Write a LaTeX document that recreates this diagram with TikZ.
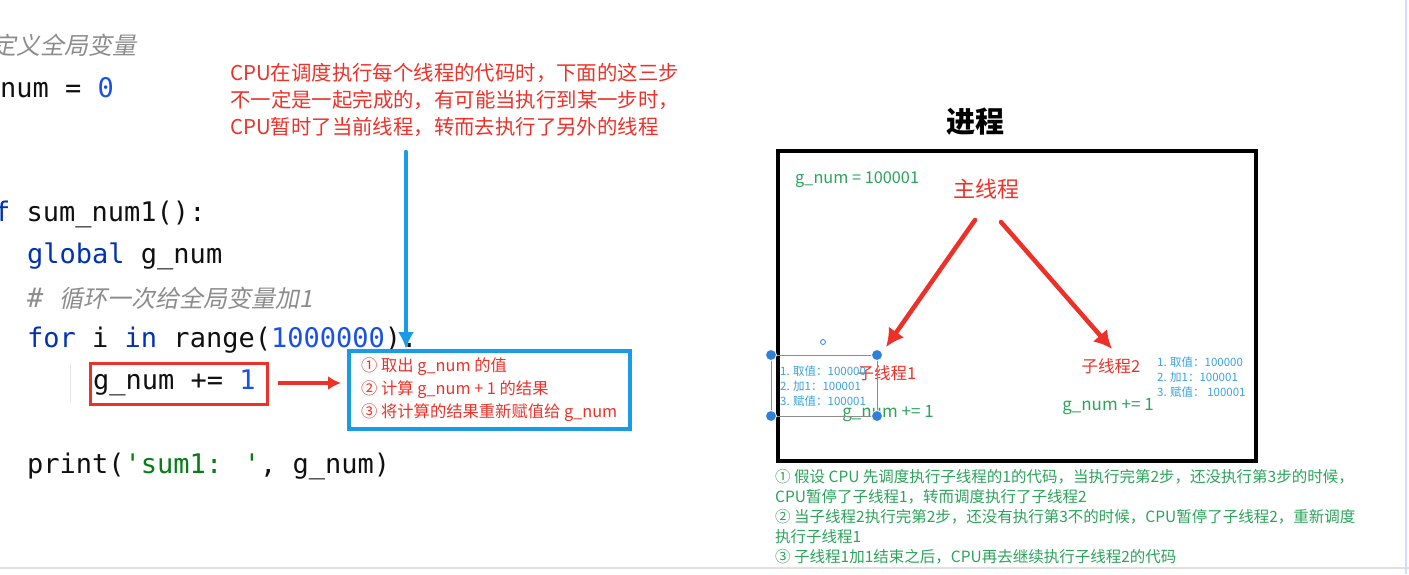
\documentclass[tikz,border=0pt]{standalone}
\usepackage{fontspec}
\setmainfont{Noto Sans CJK SC}
\newfontfamily\codefont{DejaVu Sans Mono}
\newfontfamily\cmtfont[FakeSlant=0.2]{Noto Sans CJK SC}
\usepackage{xcolor}
\usetikzlibrary{arrows.meta,positioning}
\definecolor{noteRed}{HTML}{EE3128}
\definecolor{stepBlue}{HTML}{1A9BE8}
\definecolor{infoBlue}{HTML}{3AA2DE}
\definecolor{okGreen}{HTML}{2BA35A}
\definecolor{codeKw}{HTML}{0033B3}
\definecolor{codeNum}{HTML}{1750EB}
\definecolor{codeStr}{HTML}{067D17}
\definecolor{codeCmt}{HTML}{8C8C8C}
\definecolor{codeTxt}{HTML}{101010}
\definecolor{handleBlue}{HTML}{2F80D8}

\begin{document}
\begin{tikzpicture}[x=1pt, y=-1pt,
    code/.style={anchor=west, inner sep=0pt, text=codeTxt, font=\codefont\fontsize{27}{30}\selectfont},
    cmt/.style={anchor=west, inner sep=0pt, text=codeCmt, font=\cmtfont\fontsize{24}{28}\selectfont},
    stepbox/.style={draw=stepBlue, line width=3.5pt, anchor=north west, minimum width=281pt, minimum height=78pt, inner xsep=8pt, align=left, text=noteRed, font=\fontsize{16.3}{23}\selectfont},
    thread/.style={text=noteRed, inner sep=0pt, font=\fontsize{16.5}{20}\selectfont},
    addone/.style={text=okGreen, inner sep=0pt, font=\fontsize{17}{20}\selectfont},
    info/.style={anchor=west, inner sep=0pt, align=left, text=infoBlue, font=\fontsize{11.5}{15.2}\selectfont},
    handle/.style={fill=handleBlue, draw=white, line width=0.8pt}]
    \useasboundingbox (0,0) rectangle (1409,574);
    \clip (0,0) rectangle (1409,574);

    % code on the left
    \node[cmt] (cmt0) at (-8,45) {定义全局变量};
    \node[code] (init) at (0,88) {num = \textcolor{codeNum}{0}};
    \node[code] (def) at (-6,214) {\textcolor{codeKw}{f} sum\_num1():};
    \node[code] (glob) at (27,256) {\textcolor{codeKw}{global} g\_num};
    \node[code] (cmt1) at (27,298) {\textcolor{codeCmt}{\#} \cmtfont\fontsize{24}{28}\selectfont\textcolor{codeCmt}{循环一次给全局变量加1}};
    \node[code] (loop) at (27,340) {\textcolor{codeKw}{for} i \textcolor{codeKw}{in} range(\textcolor{codeNum}{1000000}):};
    \node[code] (incr) at (93,383) {g\_num += \textcolor{codeNum}{1}};
    \node[code] (prnt) at (27,466) {print(\textcolor{codeStr}{'sum1: '}, g\_num)};
    \draw[black!10, line width=1pt] (70,364) -- (70,402);
    \draw[noteRed, line width=3pt] (90,363) rectangle (267,404);

    % the three steps
    \node[anchor=west, inner sep=0pt, align=left, text=noteRed, font=\fontsize{20.4}{27}\selectfont] (note) at (230,100) {CPU在调度执行每个线程的代码时，下面的这三步\\不一定是一起完成的，有可能当执行到某一步时，\\CPU暂时了当前线程，转而去执行了另外的线程};
    \node[stepbox] (steps) at (347,349) {① 取出 g\_num 的值\\② 计算 g\_num + 1 的结果\\③ 将计算的结果重新赋值给 g\_num};
    \coordinate (ntop) at (406,152);
    \draw[stepBlue, line width=4.5pt, line cap=round, -{Latex[length=17pt,width=16pt]}] (ntop) -- (ntop |- steps.north);
    \draw[noteRed, line width=3.5pt, -{Latex[length=13pt,width=14pt]}, shorten <=11pt, shorten >=6pt] (incr.east -| 267,0) -- (steps.west |- incr.east);

    % process box
    \node[font=\bfseries\fontsize{29}{32}\selectfont, inner sep=0pt] (title) at (975,122) {进程};
    \node[draw, line width=4pt, anchor=north west, minimum width=478pt, minimum height=310pt] (proc) at (776,149) {};
    \node[anchor=west, inner sep=0pt, text=okGreen, font=\fontsize{16.3}{20}\selectfont] (gval) at (795,180) {g\_num = 100001};
    \node[text=noteRed, inner sep=0pt, font=\fontsize{22}{26}\selectfont] (mainth) at (986,189) {主线程};
    \node[thread] (t1) at (887,373) {子线程1};
    \node[thread] (t2) at (1111,366) {子线程2};
    \node[addone] (add1) at (888,414) {g\_num += 1};
    \node[addone] (add2) at (1108,407) {g\_num += 1};
    \node[info] (info1) at (780,386) {1. 取值：100000\\2. 加1：100001\\3. 赋值：100001};
    \node[info] (info2) at (1157,377) {1. 取值：100000\\2. 加1：100001\\3. 赋值：\ 100001};

    \coordinate (m1) at (975,220);
    \coordinate (m2) at (1001,222);
    \coordinate (e1) at (886,347);
    \coordinate (e2) at (1112,349);
    \draw[noteRed, line width=4.5pt, line cap=round, -{Latex[length=18pt,width=19pt]}] (m1) -- (e1);
    \draw[noteRed, line width=4.5pt, line cap=round, -{Latex[length=18pt,width=19pt]}] (m2) -- (e2);

    % selection frame round info1
    \draw[black!45, line width=1pt] (771,355) rectangle (877,416);
    \foreach \hx/\hy in {771/355, 877/355, 771/416, 877/416}
        \fill[handle] (\hx,\hy) circle (5.5pt);
    \draw[handleBlue, line width=0.8pt] (823,342) circle (2.5pt);

    % notes below
    \node[anchor=north west, inner sep=0pt, align=left, text=okGreen, font=\fontsize{15.5}{20}\selectfont] (expl) at (775,469) {① 假设 CPU 先调度执行子线程的1的代码，当执行完第2步，还没执行第3步的时候，\\CPU暂停了子线程1，转而调度执行了子线程2\\② 当子线程2执行完第2步，还没有执行第3不的时候，CPU暂停了子线程2，重新调度\\执行子线程1\\③ 子线程1加1结束之后，CPU再去继续执行子线程2的代码};

    \draw[black!12, line width=1.5pt] (0,568) -- (1409,568);
    \draw[blue!15, line width=1.5pt] (1406,0) -- (1406,574);
\end{tikzpicture}
\end{document}
